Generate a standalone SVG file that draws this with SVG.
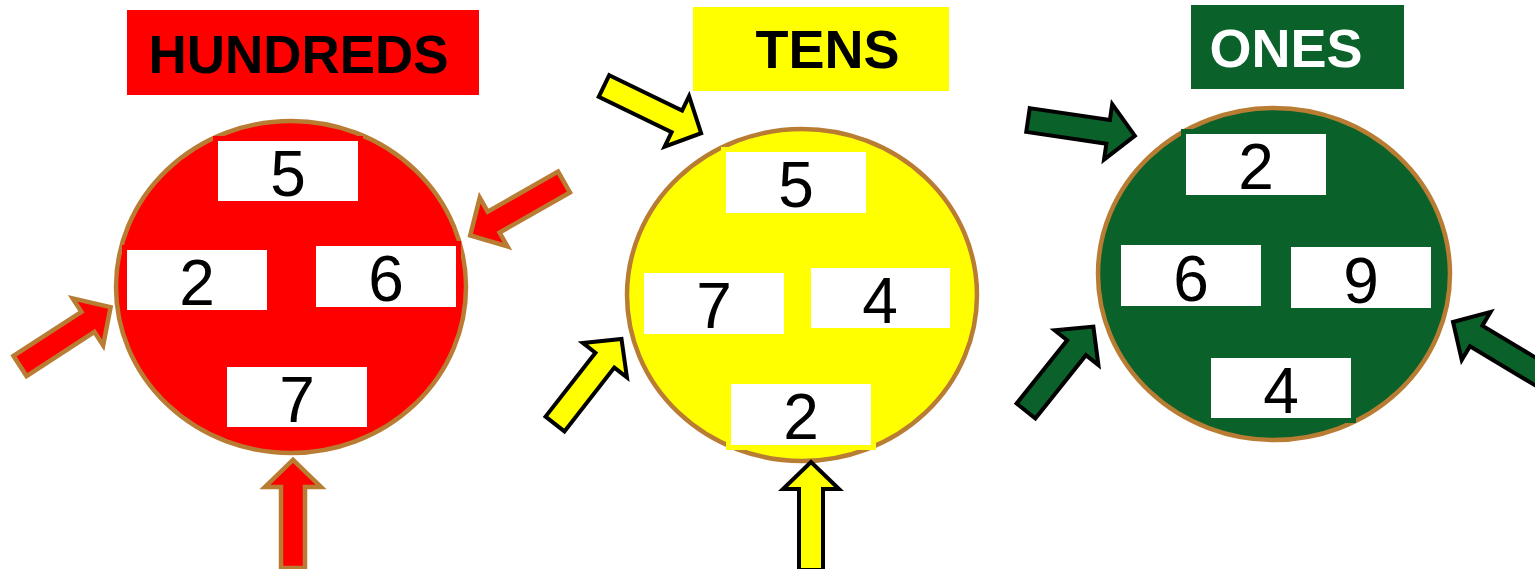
<svg xmlns="http://www.w3.org/2000/svg" width="1535" height="569" viewBox="0 0 1535 569">
<defs>
<style>
.title{font-family:"Liberation Sans",Arial,sans-serif;font-weight:bold;font-size:54px;text-anchor:middle}
.num{font-family:"Liberation Sans",Arial,sans-serif;font-size:64px;text-anchor:middle;fill:#000}
.ring{stroke:#B97C33;stroke-width:4.5}
.box{fill:#fff;stroke-width:5}
.arr-r{fill:#FF0000;stroke:#B97C33;stroke-width:4.5;stroke-linejoin:miter}
.arr-y{fill:#FFFF00;stroke:#000;stroke-width:4;stroke-linejoin:miter}
.arr-g{fill:#0A612A;stroke:#000;stroke-width:4;stroke-linejoin:miter}
</style>
<polygon id="arrow" points="0,-12 81,-12 81,-28 108,0 81,28 81,12 0,12"/>
</defs>
<rect width="1535" height="569" fill="#fff"/>

<g id="title-hundreds">
<rect x="127" y="10" width="352" height="85" fill="#FF0000"/>
<text class="title" x="298.5" y="73" fill="#000" textLength="300" lengthAdjust="spacingAndGlyphs">HUNDREDS</text>
</g>
<g id="title-tens">
<rect x="693" y="7" width="256" height="84" fill="#FFFF00"/>
<text class="title" x="827.5" y="68" fill="#000">TENS</text>
</g>
<g id="title-ones">
<rect x="1191" y="5" width="213" height="84" fill="#0A612A"/>
<text class="title" x="1286" y="67" fill="#fff">ONES</text>
</g>

<g id="hundreds">
<ellipse class="ring" cx="291" cy="287" rx="175" ry="166" fill="#FF0000"/>
<g stroke="#FF0000">
<rect class="box" x="215.5" y="138.5" width="145" height="65"/>
<rect class="box" x="124.5" y="247.5" width="145" height="65"/>
<rect class="box" x="313.5" y="243.5" width="145" height="66"/>
<rect class="box" x="224.5" y="364.5" width="145" height="65"/>
</g>
<text class="num" x="288" y="196">5</text>
<text class="num" x="197" y="305">2</text>
<text class="num" x="386" y="301">6</text>
<text class="num" x="297" y="422">7</text>
</g>

<g id="tens">
<ellipse class="ring" cx="802" cy="295" rx="175" ry="166" fill="#FFFF00"/>
<g stroke="#FFFF00">
<rect class="box" x="723.5" y="149.5" width="145" height="66"/>
<rect class="box" x="641.5" y="270.5" width="145" height="66"/>
<rect class="box" x="808.5" y="265.5" width="144" height="65"/>
<rect class="box" x="728.5" y="381.5" width="145" height="66"/>
</g>
<text class="num" x="796" y="207">5</text>
<text class="num" x="714" y="328">7</text>
<text class="num" x="880" y="323">4</text>
<text class="num" x="801" y="439">2</text>
</g>

<g id="ones">
<ellipse class="ring" cx="1274" cy="274" rx="176" ry="166" fill="#0A612A"/>
<g stroke="#0A612A">
<rect class="box" x="1183.5" y="131.5" width="145" height="66"/>
<rect class="box" x="1118.5" y="242.5" width="145" height="66"/>
<rect class="box" x="1288.5" y="244.5" width="145" height="66"/>
<rect class="box" x="1208.5" y="355.5" width="145" height="65"/>
</g>
<text class="num" x="1256" y="189">2</text>
<text class="num" x="1191" y="301">6</text>
<text class="num" x="1361" y="303">9</text>
<text class="num" x="1281" y="413">4</text>
</g>

<g id="connectors">
<use href="#arrow" class="arr-r" transform="translate(20,366) rotate(-33)"/>
<use href="#arrow" class="arr-r" transform="translate(564,182) rotate(150.3)"/>
<use href="#arrow" class="arr-r" transform="translate(293,568) rotate(-90)"/>
<use href="#arrow" class="arr-y" transform="translate(604,86) rotate(25.9)"/>
<use href="#arrow" class="arr-y" transform="translate(555,424) rotate(-52)"/>
<use href="#arrow" class="arr-y" transform="translate(811,570) rotate(-90)"/>
<use href="#arrow" class="arr-g" transform="translate(1028,120) rotate(8.4)"/>
<use href="#arrow" class="arr-g" transform="translate(1026,411) rotate(-51.4)"/>
<use href="#arrow" class="arr-g" transform="translate(1545.6,377.6) rotate(211)"/>
</g>
</svg>
